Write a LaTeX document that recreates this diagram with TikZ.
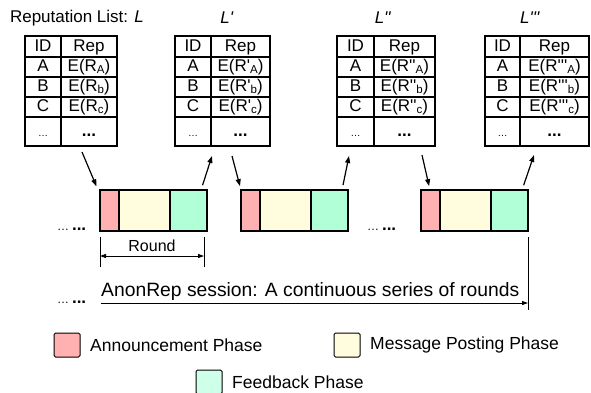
\documentclass[tikz,border=0pt]{standalone}
\usepackage{fontspec}
\setmainfont{Liberation Sans}
\usepackage{tikz}
\usetikzlibrary{positioning,arrows.meta}
\definecolor{anncol}{RGB}{255,176,176}
\definecolor{msgcol}{RGB}{255,253,222}
\definecolor{fbcol}{RGB}{176,255,214}
\definecolor{fblight}{RGB}{206,255,232}

\begin{document}
\begin{tikzpicture}[x=1pt, y=-1pt, >={Triangle[length=7pt,width=5pt]},
    font=\fontsize{17}{20}\selectfont,
    cell/.style={draw, line width=1.3pt, rectangle, minimum height=20pt, inner sep=0pt, outer sep=0pt,
        text height=12pt, text depth=3pt, anchor=north west},
    phase/.style={draw, line width=1.3pt, rectangle, minimum height=41pt, inner sep=0pt, outer sep=0pt},
    legbox/.style={draw, line width=1pt, rectangle, rounded corners=1.5pt, minimum width=26pt, minimum height=24pt, outer sep=0pt},
    legtext/.style={font=\fontsize{17.5}{20}\selectfont, inner sep=0pt},
    flow/.style={->, line width=1.2pt},
    dim/.style={line width=0.9pt, >={Triangle[length=6pt,width=4pt]}}]

    \useasboundingbox (0,0) rectangle (591,392);

    % Reputation lists
    \foreach \n/\x/\wa/\wb/\tx/\ttl/\pr in {1/25/36/56/77/{Reputation List: \textit{L}}/{},
        2/175/36/59/227/{\textit{L\textquotesingle}}/{\textquotesingle},
        3/337/37/61/383/{\textit{L\textquotesingle\textquotesingle}}/{\textquotesingle\textquotesingle},
        4/485/35/69/530/{\textit{L\textquotesingle\textquotesingle\textquotesingle}}/{\textquotesingle\textquotesingle\textquotesingle}} {
        \node (title\n) at (\tx,18) {\ttl};
        \node[cell, minimum width=\wa pt, minimum height=21pt] (t\n-id0) at (\x,36) {ID};
        \node[cell, minimum width=\wb pt, minimum height=21pt] (t\n-rep0) at (t\n-id0.north east) {Rep};
        \foreach \r/\a/\s in {1/A/A, 2/B/b, 3/C/c} {
            \node[cell, minimum width=\wa pt] (t\n-id\r) at (\x,{37+20*\r}) {\a};
            \node[cell, minimum width=\wb pt] (t\n-rep\r) at (t\n-id\r.north east)
                {E(R\pr\raisebox{-1.5pt}{\fontsize{11.5}{12}\selectfont\s})};
        }
        \node[cell, minimum width=\wa pt, minimum height=29pt] (t\n-id4) at (\x,117) {\fontsize{10}{10}\selectfont\dots};
        \node[cell, minimum width=\wb pt, minimum height=29pt] (t\n-rep4) at (t\n-id4.north east) {\textbf{...}};
    }

    % Rounds
    \foreach \k/\x in {1/100, 2/241, 3/421} {
        \node[phase, fill=anncol, minimum width=19pt, anchor=north west] (ann\k) at (\x,190) {};
        \node[phase, fill=msgcol, minimum width=51pt, right=0pt of ann\k] (msg\k) {};
        \node[phase, fill=fbcol, minimum width=37pt, right=0pt of msg\k] (fb\k) {};
    }

    % Lists in and out
    \foreach \k/\sx/\sy/\dx/\ox/\oy in {1/82/152/-2/212/156, 2/232/156/0/349/156, 3/422/155/9/534/155} {
        \coordinate (in\k) at (\sx,\sy);
        \coordinate (out\k) at (\ox,\oy);
        \draw[flow, shorten >=4pt] (in\k) -- ([xshift=\dx pt]ann\k.north west);
        \draw[flow, shorten <=5pt] ([xshift=-6pt]fb\k.north east) -- (out\k);
    }

    \node[anchor=base west, inner sep=0pt] (dots1) at (57,230) {{\fontsize{12}{12}\selectfont\dots}\,\textbf{...}};
    \node[anchor=base west, inner sep=0pt] (dots2) at (367,230) {{\fontsize{12}{12}\selectfont\dots}\,\textbf{...}};
    \node[anchor=base west, inner sep=0pt] (dots3) at (57,303) {{\fontsize{12}{12}\selectfont\dots}\,\textbf{...}};

    % Round length
    \draw[dim] ([yshift=-6pt]ann1.south west) -- ++(0,30);
    \draw[dim] ([xshift=-3pt,yshift=-6pt]fb1.south east) -- ++(0,30);
    \draw[dim, <->] ([yshift=-25pt]ann1.south west) -- ([xshift=-3pt,yshift=-25pt]fb1.south east)
        node[midway, above=1pt, font=\fontsize{16}{18}\selectfont] (round) {Round};

    % Session
    \draw[dim] ([yshift=-6pt]fb3.south east) -- ++(0,73);
    \coordinate (sess0) at (101,303);
    \draw[dim, ->] (sess0) -- (sess0 -| fb3.south east);
    \node[anchor=base west, inner sep=0pt, font=\fontsize{19.3}{22}\selectfont] (session) at (101,296) {AnonRep session: A continuous series of rounds};

    % Legend
    \node[legbox, fill=anncol] (legann) at (67,345) {};
    \node[legtext, right=10pt of legann] (legann-txt) {Announcement Phase};
    \node[legbox, fill=msgcol] (legmsg) at (347,345) {};
    \node[legtext, right=10pt of legmsg] (legmsg-txt) {Message Posting Phase};
    \node[legbox, fill=fblight] (legfb) at (209,382) {};
    \node[legtext, right=10pt of legfb] (legfb-txt) {Feedback Phase};

\end{tikzpicture}
\end{document}
